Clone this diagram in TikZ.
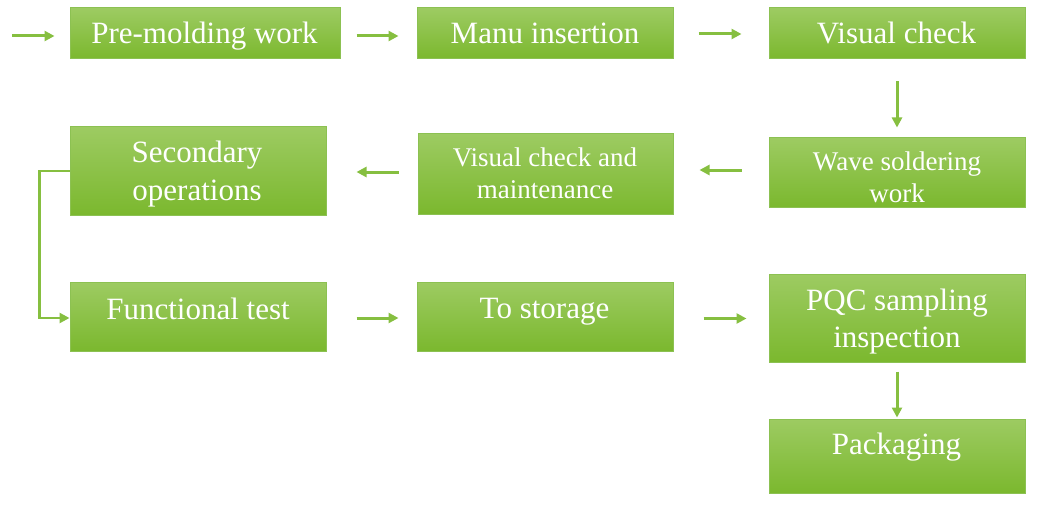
\documentclass[tikz,border=0pt]{standalone}
\usepackage{fontspec}
\setmainfont{Liberation Serif}
\usetikzlibrary{arrows.meta}
\definecolor{gtop}{HTML}{9DCB62}
\definecolor{gmid}{HTML}{8DC63F}
\definecolor{gbot}{HTML}{7BB82E}
\definecolor{gedge}{HTML}{8CC152}
\definecolor{arrc}{HTML}{86BF40}
\tikzset{
  box/.style={draw=gedge, line width=1pt, top color=gtop, middle color=gmid, bottom color=gbot, inner sep=0pt, rectangle},
  txt/.style={text=white, font=\fontsize{31}{37}\selectfont, align=center, inner sep=0pt},
  stxt/.style={text=white, font=\fontsize{27}{32}\selectfont, align=center, inner sep=0pt},
  arr/.style={draw=arrc, line width=3pt, -{Triangle[length=10pt,width=10pt]}},
  elb/.style={draw=arrc, line width=2.5pt, -{Triangle[length=10pt,width=10pt]}}
}
\begin{document}
\begin{tikzpicture}[x=1pt,y=-1pt]
\useasboundingbox (0,0) rectangle (1044,508);
% boxes
\node[box, minimum width=270pt, minimum height=51pt] (pm) at (205,33.5) {};
\node[box, minimum width=256pt, minimum height=51pt] (mi) at (545,33.5) {};
\node[box, minimum width=256pt, minimum height=51pt] (vc) at (897,33.5) {};
\node[box, minimum width=256pt, minimum height=69pt] (ws) at (897,172.5) {};
\node[box, minimum width=255pt, minimum height=80pt] (vm) at (545.5,174) {};
\node[box, minimum width=256pt, minimum height=88pt] (so) at (198,171) {};
\node[box, minimum width=256pt, minimum height=69pt] (ft) at (198,316.5) {};
\node[box, minimum width=256pt, minimum height=69pt] (st) at (545,316.5) {};
\node[box, minimum width=256pt, minimum height=88pt] (pq) at (897,318) {};
\node[box, minimum width=256pt, minimum height=74pt] (pk) at (897,456) {};
% texts
\node[txt, anchor=base] (pmt) at (204.5,44) {Pre-molding work};
\node[txt, anchor=base] (mit) at (545,43.5) {Manu insertion};
\node[txt, anchor=base] (vct) at (896.5,44) {Visual check};
\node[stxt, anchor=base] (wst) at (897,202) {Wave soldering\\work};
\node[stxt, anchor=base] (vmt) at (545,198.5) {Visual check and\\maintenance};
\node[txt, anchor=base] (sot) at (197,200) {Secondary\\operations};
\node[txt, anchor=base] (ftt) at (198,319) {Functional test};
\node[txt, anchor=base] (stt) at (544.5,318.5) {To storage};
\node[txt, anchor=base] (pqt) at (897,347) {PQC sampling\\inspection};
\node[txt, anchor=base] (pkt) at (896.5,454) {Packaging};
% connectors
\coordinate (start) at (12,36);
\draw[arr, shorten >=15pt] (start) -- ([yshift=-2.5pt]pm.west);
\draw[arr, shorten <=16pt, shorten >=18pt] ([yshift=-2.5pt]pm.east) -- ([yshift=-2.5pt]mi.west);
\draw[arr, shorten <=25pt, shorten >=27pt] ([yshift=-0.5pt]mi.east) -- ([yshift=-0.5pt]vc.west);
\draw[arr, shorten <=22pt, shorten >=10pt] (vc.south) -- (ws.north);
\draw[arr, shorten <=27pt, shorten >=26pt] ([yshift=2.5pt]ws.west) -- ([yshift=4pt]vm.east);
\draw[arr, shorten <=19pt, shorten >=30pt] ([yshift=2pt]vm.west) -- ([yshift=-1pt]so.east);
\draw[elb] (so.west) -- ++(-30,0) |- ([yshift=-1.5pt]ft.west);
\draw[arr, shorten <=30pt, shorten >=18pt] ([yshift=-1.5pt]ft.east) -- ([yshift=-1.5pt]st.west);
\draw[arr, shorten <=30pt, shorten >=22pt] ([yshift=-2pt]st.east) -- ([yshift=-0.5pt]pq.west);
\draw[arr, shorten <=9pt, shorten >=1pt] (pq.south) -- (pk.north);
\end{tikzpicture}
\end{document}
